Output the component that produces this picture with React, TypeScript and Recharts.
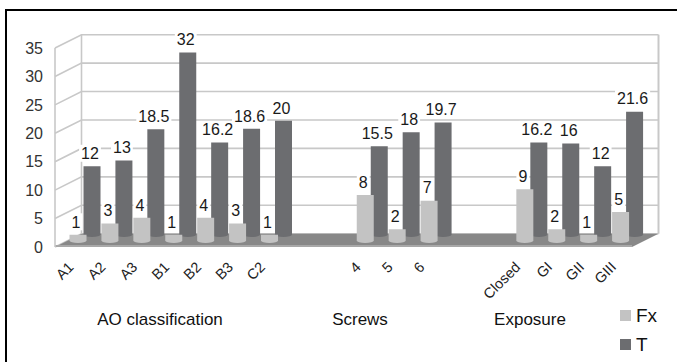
import React from 'react';
import { BarChart, Bar, XAxis, YAxis, CartesianGrid, LabelList, Legend } from 'recharts';

// Categories along the floor; blank entries are the spacer slots between groups.
const categories = ['A1', 'A2', 'A3', 'B1', 'B2', 'B3', 'C2', ' ', '  ', '4', '5', '6', '   ', '    ', 'Closed', 'GI', 'GII', 'GIII'];
const fxValues: (number | null)[] = [1, 3, 4, 1, 4, 3, 1, null, null, 8, 2, 7, null, null, 9, 2, 1, 5];
const tValues: (number | null)[] = [12, 13, 18.5, 32, 16.2, 18.6, 20, null, null, 15.5, 18, 19.7, null, null, 16.2, 16, 12, 21.6];
const yTicks = [0, 5, 10, 15, 20, 25, 30, 35];
const groupTitles = ['AO classification', 'Screws', 'Exposure'];
const seriesNames = ['Fx', 'T'];

const data = categories.map((cat, i) => ({ cat, Fx: fxValues[i], T: tValues[i] }));

// ---- styling / layout ----
const FONT = '"Liberation Sans", Arial, Helvetica, sans-serif';
const FX_COLOR = '#c3c3c3';
const T_COLOR = '#6c6d70';
const GRID_COLOR = '#c8c8c8';
const FLOOR_COLOR = '#888888';
const SERIES_COLORS: Record<string, string> = { Fx: FX_COLOR, T: T_COLOR };

// pseudo-3D depth offsets (front row = Fx, back row = T, back wall)
const FX_SHIFT = { dx: 0, dy: -6.5 };
const T_SHIFT = { dx: 14, dy: -12.5 };
const WALL = { dx: 26.5, dy: -13.3 };
const FRONT_LEFT_INSET = 7.5;
const FRONT_RIGHT_INSET = 5;
const GROUP_TITLE_X = [160, 360, 530];

const makeShape = (shift: { dx: number; dy: number }, color: string) => (props: any) => {
  const { x, y, width, height } = props;
  if (height == null || !(height > 0)) return <g />;
  const left = x + shift.dx;
  const top = y + shift.dy;
  const right = left + width;
  const bottom = top + height;
  const d = `M${left},${top} H${right} V${bottom} A${width / 2},2.5 0 0 1 ${left},${bottom} Z`;
  return <path d={d} fill={color} />;
};

const approxWidth = (s: string) => s.split('').reduce((w, ch) => w + (ch === '.' ? 4.4 : 8.9), 0);

const makeLabel = (shift: { dx: number; dy: number }) => (props: any) => {
  const vb = props.viewBox && props.viewBox.width != null ? props.viewBox : props;
  const { x, y, width } = vb;
  const value = props.value;
  if (value == null || x == null) return <g />;
  const text = String(value);
  const cx = x + width / 2 + shift.dx - 2;
  const cy = y + shift.dy - 13;
  const w = approxWidth(text) + 4;
  return (
    <g>
      <rect x={cx - w / 2} y={cy - 8.5} width={w} height={17} fill="#ffffff" />
      <text x={cx} y={cy} dy="0.36em" textAnchor="middle" fontSize={16} fontFamily={FONT} fill="#1a1a1a">
        {text}
      </text>
    </g>
  );
};

const XTick = (props: any) => {
  const { x, y, payload } = props;
  const label = String(payload.value).trim();
  if (!label) return <g />;
  const ax = x - 4;
  const ay = y + 21;
  return (
    <text x={ax} y={ay} transform={`rotate(-45 ${ax} ${ay})`} textAnchor="end" fontSize={14.5} fontFamily={FONT} fill="#222">
      {label}
    </text>
  );
};

// Back-wall gridlines with the slanted side-wall segment, plus the floor and wall edges.
const GridLine = (props: any) => {
  const { x1, x2, y1, y, height, index } = props;
  const fl = x1 - FRONT_LEFT_INSET;
  const fr = x2 - FRONT_RIGHT_INSET;
  const bl = fl + WALL.dx;
  const br = fr + WALL.dx;
  const by = y1 + WALL.dy;
  const top = y;
  const bottom = y + height;
  const isBottom = Math.abs(y1 - bottom) < 0.5;
  const isTop = Math.abs(y1 - top) < 0.5;
  return (
    <g key={`grid-${index}`}>
      <path d={`M${fl},${y1} L${bl},${by} L${br},${by}`} fill="none" stroke={GRID_COLOR} strokeWidth={1.6} />
      {isTop && (
        <g>
          <line x1={fl} y1={top} x2={fl} y2={bottom} stroke={GRID_COLOR} strokeWidth={1.6} />
          <line x1={bl} y1={top + WALL.dy} x2={bl} y2={bottom + WALL.dy} stroke={GRID_COLOR} strokeWidth={1.6} />
          <line x1={br} y1={top + WALL.dy} x2={br} y2={bottom + WALL.dy} stroke={GRID_COLOR} strokeWidth={2} />
        </g>
      )}
      {isBottom && (
        <g>
          <polygon
            points={`${fl},${bottom} ${fr},${bottom} ${br},${bottom + WALL.dy} ${bl},${bottom + WALL.dy}`}
            fill={FLOOR_COLOR}
          />
          <polygon
            points={`${fl},${bottom - 2} ${fr},${bottom - 2} ${fr},${bottom} ${fl},${bottom}`}
            fill="#a8a8a8"
          />
        </g>
      )}
    </g>
  );
};

const LegendBox = () => (
  <div style={{ fontFamily: FONT }}>
    {seriesNames.map((name) => (
      <div key={name} style={{ display: 'flex', alignItems: 'center', height: 29 }}>
        <div style={{ width: 11, height: 11, background: SERIES_COLORS[name], marginRight: 5 }} />
        <span style={{ fontSize: 19, color: '#111', lineHeight: '19px' }}>{name}</span>
      </div>
    ))}
  </div>
);

export default function App() {
  return (
    <div
      style={{
        position: 'fixed',
        left: 0,
        top: 0,
        width: 677,
        height: 362,
        overflow: 'hidden',
        background: '#ffffff',
        fontFamily: FONT,
      }}
    >
      <div
        style={{
          position: 'absolute',
          left: 5,
          top: 9,
          width: 800,
          height: 500,
          borderLeft: '2px solid #000',
          borderTop: '2px solid #000',
        }}
      />
      <div style={{ position: 'absolute', left: 0, top: 0 }}>
        <BarChart
          width={677}
          height={362}
          data={data}
          margin={{ top: 48, right: 40, bottom: 75, left: 0 }}
          barGap={-17}
          style={{ fontFamily: FONT }}
        >
          <CartesianGrid vertical={false} horizontal={GridLine as any} />
          <YAxis
            type="number"
            domain={[0, 35]}
            ticks={yTicks}
            interval={0}
            width={62.5}
            axisLine={false}
            tickLine={false}
            tickSize={0}
            tickMargin={19.5}
            tick={{ fontSize: 16, fill: '#333', fontFamily: FONT }}
          />
          <XAxis
            dataKey="cat"
            type="category"
            interval={0}
            height={40}
            axisLine={false}
            tickLine={false}
            tickSize={0}
            tickMargin={0}
            tick={<XTick />}
          />
          <Legend
            layout="vertical"
            align="center"
            verticalAlign="middle"
            wrapperStyle={{ left: 620, top: 301, width: 60 }}
            content={() => <LegendBox />}
          />
          <Bar dataKey="T" name="T" fill={T_COLOR} barSize={17} isAnimationActive={false} shape={makeShape(T_SHIFT, T_COLOR)}>
            <LabelList dataKey="T" content={makeLabel(T_SHIFT)} />
          </Bar>
          <Bar dataKey="Fx" name="Fx" fill={FX_COLOR} barSize={17} isAnimationActive={false} shape={makeShape(FX_SHIFT, FX_COLOR)}>
            <LabelList dataKey="Fx" content={makeLabel(FX_SHIFT)} />
          </Bar>
        </BarChart>
      </div>
      {groupTitles.map((title, i) => (
        <div
          key={title}
          style={{
            position: 'absolute',
            left: GROUP_TITLE_X[i],
            top: 310,
            transform: 'translateX(-50%)',
            fontSize: 17,
            color: '#111',
            whiteSpace: 'nowrap',
            lineHeight: '20px',
          }}
        >
          {title}
        </div>
      ))}
    </div>
  );
}
